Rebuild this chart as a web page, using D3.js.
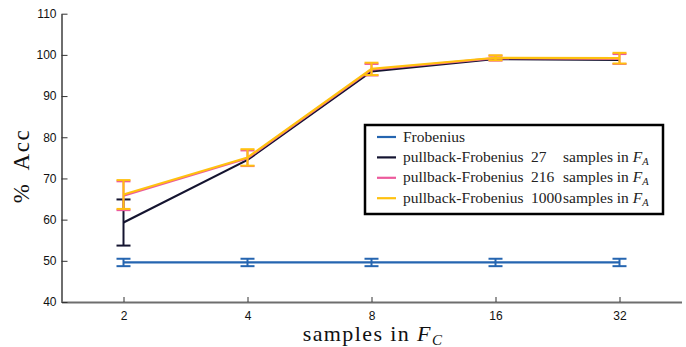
<!DOCTYPE html>
<html><head><meta charset="utf-8">
<script src="https://cdn.jsdelivr.net/npm/d3@7"></script>
<style>body{margin:0;background:#fff}svg{display:block}</style>
</head><body>
<script>
const xValues = [2, 4, 8, 16, 32];
const yTicks = [40, 50, 60, 70, 80, 90, 100, 110];
const seriesNames = ["Frobenius", "pullback-Frobenius 27", "pullback-Frobenius 216", "pullback-Frobenius 1000"];
const seriesNums = ["", "27", "216", "1000"];
const seriesColors = ["#2565b0", "#141430", "#ec5a9c", "#ffc10f"];
const frobMean = [49.6, 49.6, 49.6, 49.6, 49.6];
const frobErr = [0.9, 0.9, 0.9, 0.9, 0.9];
const pb27Mean = [59.3, 74.5, 96.0, 99.0, 98.8];
const pb27Err = [5.6, null, null, null, null];
const pb216Mean = [65.8, 74.9, 96.4, 99.2, 99.0];
const pb216Err = [3.5, 1.9, 1.4, 0.6, 1.2];
const pb1000Mean = [66.1, 75.1, 96.6, 99.3, 99.2];
const pb1000Err = [3.5, 2.0, 1.5, 0.6, 1.3];
const allMeans = [frobMean, pb27Mean, pb216Mean, pb1000Mean];
const allErrs = [frobErr, pb27Err, pb216Err, pb1000Err];

const W = 686, H = 347;
const svg = d3.select("body").append("svg").attr("width", W).attr("height", H);
const x = d3.scaleLog().base(2).domain([Math.pow(2, 0.5), Math.pow(2, 5.5)]).range([61.5, 681.5]);
const y = d3.scaleLinear().domain([40, 110]).range([302, 13.7]);

// axes
const xAxis = d3.axisBottom(x).tickValues(xValues).tickFormat(d3.format("d")).tickSizeInner(-5).tickSizeOuter(0).tickPadding(9);
const yAxis = d3.axisLeft(y).tickValues(yTicks).tickSizeInner(-6).tickSizeOuter(0).tickPadding(5);
const gx = svg.append("g").attr("transform", "translate(0,302)").call(xAxis);
const gy = svg.append("g").attr("transform", "translate(61.5,0)").call(yAxis);
[gx, gy].forEach(g => {
  g.select(".domain").attr("stroke", "#6e6e6e").attr("stroke-width", 2);
  g.selectAll(".tick line").attr("stroke", "#333").attr("stroke-width", 1);
  g.selectAll(".tick text").attr("fill", "#111").style("font-family", "Liberation Sans, Arial, sans-serif").style("font-size", "12px");
});

// series
const line = d3.line().x((d, i) => x(xValues[i])).y(d => y(d));
allMeans.forEach((m, s) => {
  const c = seriesColors[s];
  const g = svg.append("g");
  g.append("path").attr("d", line(m)).attr("fill", "none").attr("stroke", c).attr("stroke-width", 2.2);
  const capW = 7;
  m.forEach((v, i) => {
    const e = allErrs[s][i];
    if (e == null) return;
    const xx = x(xValues[i]);
    g.append("line").attr("x1", xx).attr("x2", xx).attr("y1", y(v - e)).attr("y2", y(v + e)).attr("stroke", c).attr("stroke-width", 2);
    [v - e, v + e].forEach(t => {
      g.append("line").attr("x1", xx - capW).attr("x2", xx + capW).attr("y1", y(t)).attr("y2", y(t)).attr("stroke", c).attr("stroke-width", 2);
    });
  });
});

// legend
const lg = svg.append("g");
lg.append("rect").attr("x", 365).attr("y", 125).attr("width", 298).attr("height", 89)
  .attr("fill", "#fff").attr("stroke", "#000").attr("stroke-width", 2.5);
const serif = "Liberation Serif, Times New Roman, serif";
const fs = "15.5px";
seriesNames.forEach((n, s) => {
  const yy = 137 + s * 20.4;
  lg.append("line").attr("x1", 377).attr("x2", 396).attr("y1", yy).attr("y2", yy).attr("stroke", seriesColors[s]).attr("stroke-width", 2.2);
  const txt = (xx, str) => lg.append("text").attr("x", xx).attr("y", yy + 4.5).style("font-family", serif).style("font-size", fs).attr("fill", "#222").text(str);
  if (s === 0) {
    txt(403, "Frobenius");
  } else {
    txt(403, "pullback-Frobenius");
    txt(531, seriesNums[s]);
    const t2 = txt(563, null);
    t2.append("tspan").text("samples in ");
    t2.append("tspan").style("font-style", "italic").text("F");
    t2.append("tspan").attr("dy", 3).style("font-size", "10.5px").style("font-style", "italic").text("A");
  }
});

// axis labels
const xl = svg.append("text").attr("x", 373).attr("y", 341).attr("text-anchor", "middle")
  .style("font-family", serif).style("font-size", "22px").style("letter-spacing", "1.4px").attr("fill", "#111");
xl.append("tspan").text("samples in ");
xl.append("tspan").style("font-style", "italic").text("F");
xl.append("tspan").attr("dy", 4).style("font-size", "15px").style("font-style", "italic").text("C");

svg.append("text").attr("transform", "translate(29,166) rotate(-90)").attr("text-anchor", "middle")
  .style("font-family", serif).style("font-size", "23px").style("letter-spacing", "1.5px").attr("fill", "#111").text("%\u2009 Acc");
</script>
</body></html>
